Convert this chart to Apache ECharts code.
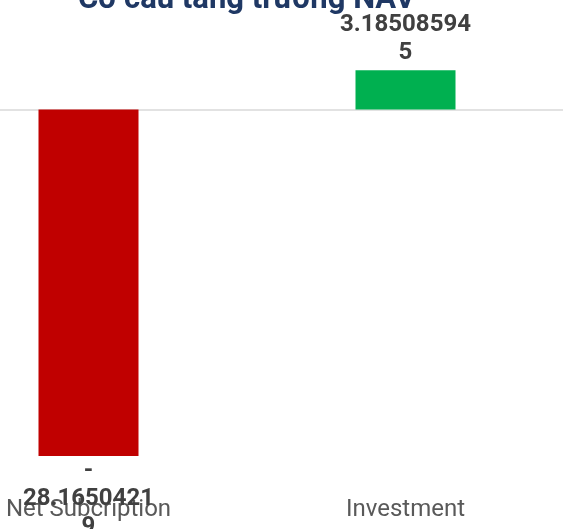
<!DOCTYPE html>
<html>
<head>
<meta charset="utf-8">
<script src="https://cdn.jsdelivr.net/npm/echarts@6/dist/echarts.min.js"></script>
<style>
  html, body { margin: 0; padding: 0; background: #fff; }
  #navChart { width: 563px; height: 529px; }
</style>
</head>
<body>
<div id="navChart"></div>
<script>
// dữ liệu biểu đồ
const categories = ['Net Subcription', 'Investment']
const values = [-28.16504219, 3.185085945]
const barColors = ['#c00000', '#00b050']

// ngắt nhãn giống Excel: dấu trừ riêng một dòng, mỗi dòng 10 ký tự
function wrapLabel(v) {
  let s = String(Math.abs(v))
  const lines = []
  if (v < 0) lines.push('-')
  while (s.length > 10) {
    lines.push(s.slice(0, 10))
    s = s.slice(10)
  }
  lines.push(s)
  return lines.join('\n')
}

const chart = echarts.init(document.getElementById('navChart'))
const option = {
  animation: false,
  textStyle: { fontFamily: 'Roboto' },
  title: {
    text: 'Cơ cấu tăng trưởng NAV',
    left: 73,
    top: -20,
    textStyle: { fontSize: 31, fontWeight: 'bold', color: '#1f3864', fontFamily: 'Roboto' }
  },
  grid: { left: -70, right: -1, top: 48, bottom: 50.5, outerBoundsMode: 'none', containLabel: false },
  xAxis: [
    {
      type: 'category',
      data: categories,
      axisLine: { onZero: true, lineStyle: { color: '#d9d9d9', width: 1.5 } },
      axisTick: { show: false },
      axisLabel: { show: false }
    },
    {
      type: 'category',
      data: categories,
      position: 'bottom',
      axisLine: { show: false, onZero: false },
      axisTick: { show: false },
      axisLabel: { margin: 19, fontSize: 24, color: '#595959', fontFamily: 'Roboto' }
    }
  ],
  yAxis: {
    type: 'value',
    min: -30,
    max: 5,
    show: false,
    splitLine: { show: false }
  },
  series: [
    {
      type: 'bar',
      barWidth: 100,
      data: values.map((v, i) => ({
        value: v,
        itemStyle: { color: barColors[i] },
        label: { position: v < 0 ? 'bottom' : 'top', distance: v < 0 ? 1 : 3 }
      })),
      label: {
        show: true,
        formatter: p => wrapLabel(p.value),
        fontSize: 24,
        fontWeight: 'bold',
        lineHeight: 28,
        color: '#404040',
        fontFamily: 'Roboto'
      }
    }
  ]
}
chart.setOption(option)
</script>
</body>
</html>
